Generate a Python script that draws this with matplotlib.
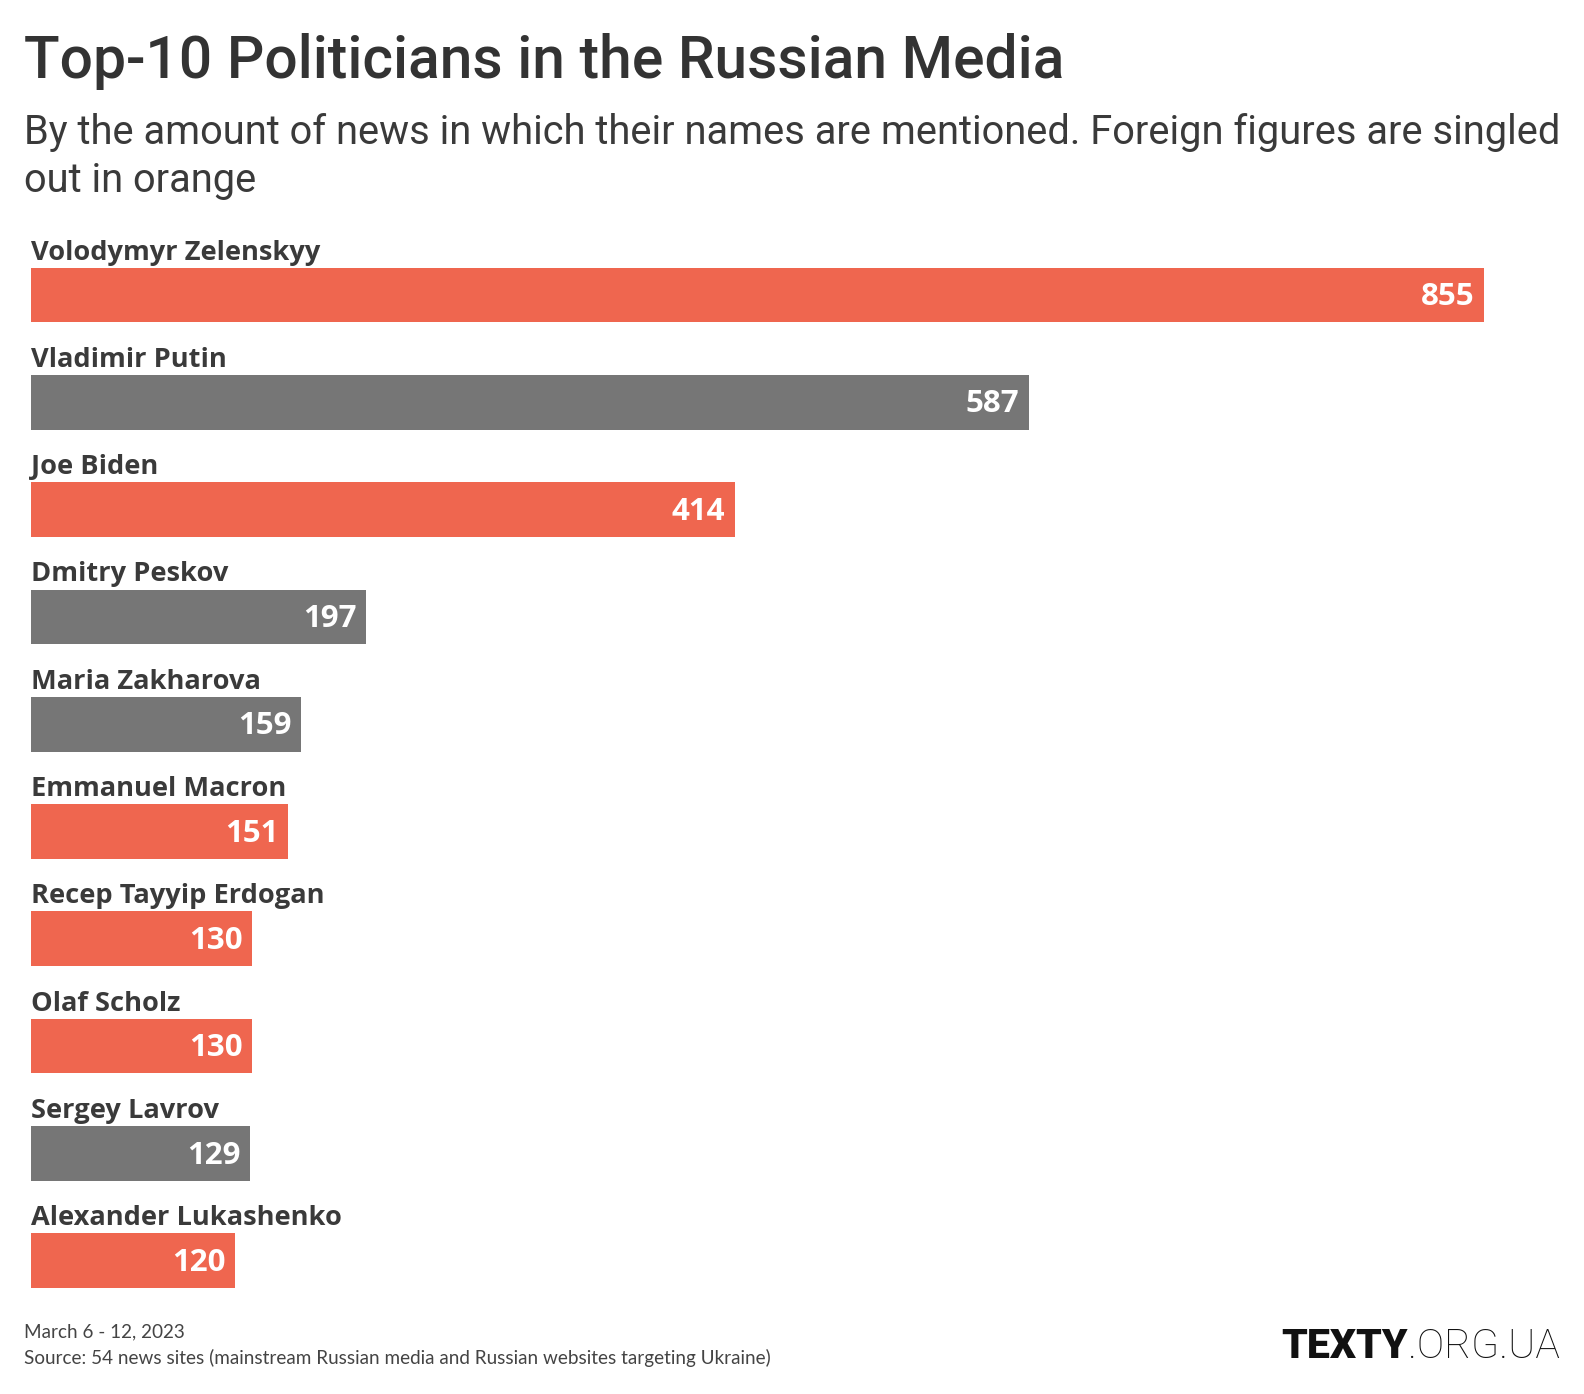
import matplotlib
matplotlib.use("Agg")
import matplotlib.pyplot as plt

names = [
    "Volodymyr Zelenskyy",
    "Vladimir Putin",
    "Joe Biden",
    "Dmitry Peskov",
    "Maria Zakharova",
    "Emmanuel Macron",
    "Recep Tayyip Erdogan",
    "Olaf Scholz",
    "Sergey Lavrov",
    "Alexander Lukashenko",
]
mentions = [855, 587, 414, 197, 159, 151, 130, 130, 129, 120]
foreign = [True, False, True, False, False, True, True, True, False, True]

ORANGE = "#ef664f"
GRAY = "#767676"
TEXT = "#3a3a3a"

title_font = "Roboto"
label_font = "Open Sans"

W, H = 1584, 1394
fig = plt.figure(figsize=(W / 100, H / 100), dpi=100)

# axes placed in pixel coordinates
left, right = 31, 1560
top, bottom = 241, 1315
ax = fig.add_axes([left / W, 1 - bottom / H, (right - left) / W, (bottom - top) / H])
px_per_unit = (1484 - 31) / 855
ax.set_xlim(0, (right - left) / px_per_unit)
spacing = 107.3
first_center = 295
ax.set_ylim((bottom - first_center) / spacing, (top - first_center) / spacing)
ax.axis("off")

colors = [ORANGE if f else GRAY for f in foreign]
ys = list(range(len(names)))
ax.barh(ys, mentions, height=0.51, color=colors, left=0)

for y, name, v in zip(ys, names, mentions):
    ax.text(0, y - 0.33, name, ha="left", va="baseline", fontsize=19.6,
            fontweight="bold", color=TEXT, family=label_font)
    ax.text(v - 5.5, y + 0.02, str(v), ha="right", va="center", fontsize=22.5,
            fontweight="bold", color="white", family=label_font)

fig.text(24 / W, 1 - 78 / H, "Top-10 Politicians in the Russian Media",
         fontsize=42.3, fontweight="medium", color="#333333", family=title_font,
         ha="left", va="baseline")
fig.text(24 / W, 1 - 144 / H,
         "By the amount of news in which their names are mentioned. Foreign figures are singled",
         fontsize=28.7, color="#3a3a3a", family=title_font, ha="left", va="baseline")
fig.text(24 / W, 1 - 192 / H, "out in orange",
         fontsize=28.7, color="#3a3a3a", family=title_font, ha="left", va="baseline")

fig.text(24 / W, 1 - 1337 / H, "March 6 - 12, 2023", fontsize=13.6,
         color="#444444", family="Lato", ha="left", va="baseline")
fig.text(24 / W, 1 - 1364 / H,
         "Source: 54 news sites (mainstream Russian media and Russian websites targeting Ukraine)",
         fontsize=13.6, color="#444444", family="Lato", ha="left", va="baseline")

# logo: bold TEXTY followed by light .ORG.UA
org = fig.text(1560 / W, 1 - 1358 / H, ".ORG.UA", fontsize=29.5, fontweight="light",
               color="#111111", family="Roboto", ha="right", va="baseline")
fig.canvas.draw()
bb = org.get_window_extent(fig.canvas.get_renderer())
fig.text(bb.x0 / W, 1 - 1358 / H, "TEXTY", fontsize=29.5, fontweight="black",
         color="#111111", family="Roboto", ha="right", va="baseline")

fig.savefig("out.png", dpi=100, facecolor="white")
